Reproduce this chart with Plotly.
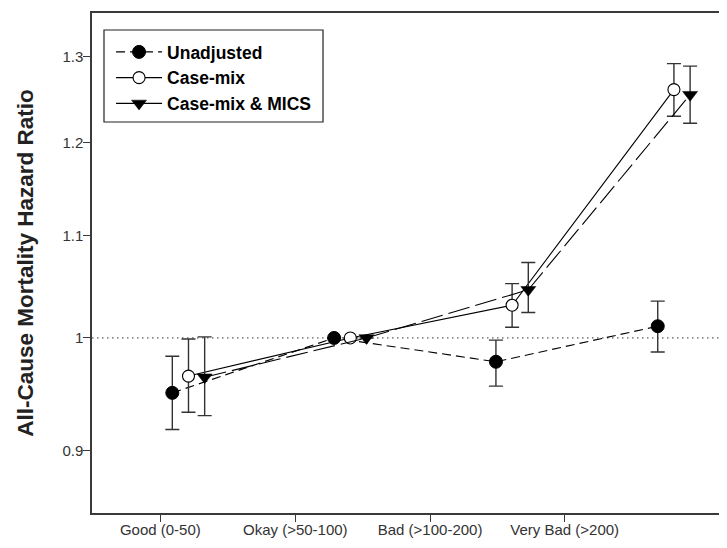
import plotly.graph_objects as go

# ---- data ----
categories = ["Good (0-50)", "Okay (>50-100)", "Bad (>100-200)", "Very Bad (>200)"]

unadj_hr = [0.950, 1.000, 0.978, 1.011]
unadj_lo = [0.918, None, 0.956, 0.987]
unadj_hi = [0.983, None, 0.998, 1.035]

casemix_hr = [0.965, 1.000, 1.031, 1.261]
casemix_lo = [0.933, None, 1.010, 1.230]
casemix_hi = [0.999, None, 1.052, 1.292]

mics_hr = [0.964, 1.000, 1.046, 1.255]
mics_lo = [0.930, None, 1.024, 1.222]
mics_hi = [1.001, None, 1.073, 1.289]

y_ticks = [0.9, 1.0, 1.1, 1.2, 1.3]
y_ticktext = ["0.9", "1", "1.1", "1.2", "1.3"]

# ---- layout helpers ----
FONT = "Liberation Sans, Arial, sans-serif"
AX = "#3a3a3a"


def err(hr, lo, hi):
    plus = [None if h is None else h - v for v, h in zip(hr, hi)]
    minus = [None if l is None else v - l for v, l in zip(hr, lo)]
    return plus, minus


def xs(offset):
    return [i + 1 + offset for i in range(len(categories))]


series = [
    ("Unadjusted", unadj_hr, unadj_lo, unadj_hi, 0.0,
     dict(symbol="circle", size=13, color="black", line=dict(color="black", width=1)),
     dict(color="black", width=1.1, dash="9px,5px")),
    ("Case-mix", casemix_hr, casemix_lo, casemix_hi, 0.1,
     dict(symbol="circle", size=12, color="white", line=dict(color="black", width=1.1)),
     dict(color="black", width=1.1, dash="solid")),
    ("Case-mix & MICS", mics_hr, mics_lo, mics_hi, 0.2,
     dict(symbol="triangle-down", size=13, color="black", line=dict(color="black", width=0.5)),
     dict(color="black", width=1.1, dash="22px,6px")),
]

fig = go.Figure()
for name, hr, lo, hi, off, mk, ln in series:
    plus, minus = err(hr, lo, hi)
    fig.add_trace(go.Scatter(
        x=xs(off), y=hr, name=name, mode="lines+markers",
        marker=mk, line=ln,
        error_y=dict(type="data", array=plus, arrayminus=minus, symmetric=False,
                     color="#333333", thickness=1.4, width=7),
    ))

# reference line at HR = 1
fig.add_shape(type="line", xref="paper", x0=0, x1=1, yref="y", y0=1, y1=1,
              line=dict(color="#333333", width=1, dash="1.5px,3.5px"), layer="below")

# legend frame
fig.add_shape(type="rect", xref="paper", yref="paper",
              x0=0.0189, x1=0.3638, y0=0.782, y1=0.966,
              line=dict(color="#222222", width=1.2), fillcolor="rgba(0,0,0,0)")

# page body has an 8px margin: figure is sized/offset to compensate
fig.update_layout(
    width=719, height=540,
    margin=dict(l=84, r=0, t=5, b=35),
    paper_bgcolor="white", plot_bgcolor="white",
    font=dict(family=FONT, color="#333333"),
    showlegend=True,
    legend=dict(x=0.030, y=0.958, xanchor="left", yanchor="top",
                bgcolor="rgba(0,0,0,0)", borderwidth=0,
                font=dict(family=FONT, size=17.5, color="black", weight="bold"),
                tracegroupgap=0, itemwidth=46),
    xaxis=dict(
        range=[0.5037, 4.428], showgrid=False, zeroline=False,
        showline=True, linecolor=AX, linewidth=1.5, mirror=True,
        ticks="outside", ticklen=7, tickwidth=1, tickcolor=AX,
        tickmode="array", tickvals=[0.926, 1.760, 2.593, 3.425], ticktext=categories,
        tickfont=dict(family=FONT, size=15, color="#333333"),
        ticklabelstandoff=-5,
    ),
    yaxis=dict(
        type="log", range=[-0.0710, 0.13178], showgrid=False, zeroline=False,
        showline=True, linecolor=AX, linewidth=1.5,
        ticks="outside", ticklen=7, tickwidth=1, tickcolor=AX,
        tickmode="array", tickvals=y_ticks, ticktext=y_ticktext,
        tickfont=dict(family=FONT, size=15, color="#333333"),
        ticklabelstandoff=-3,
        title=dict(text="<b>All-Cause Mortality Hazard Ratio</b>", standoff=23,
                   font=dict(family=FONT, size=22.5, color="#222222")),
    ),
)

fig.write_html("out.html")
